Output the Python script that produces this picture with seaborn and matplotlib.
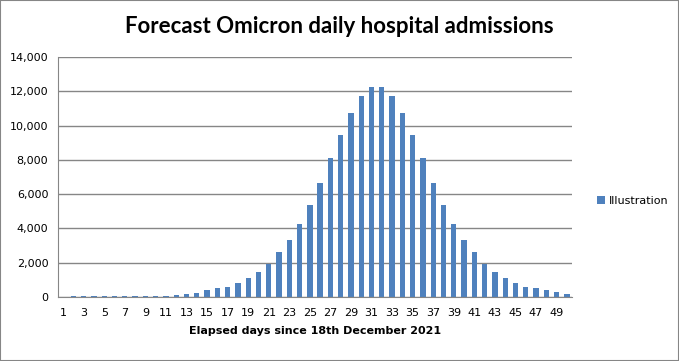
import numpy as np
import pandas as pd
import matplotlib
matplotlib.use('Agg')
import matplotlib.pyplot as plt
import seaborn as sns
from matplotlib.patches import Rectangle

# 데이터
days = list(range(1, 51))
admissions = [0, 80, 80, 80, 80, 80, 80, 80, 80, 80,
              80, 140, 190, 250, 390, 500, 600, 840, 1130, 1480,
              1940, 2600, 3340, 4280, 5390, 6670, 8090, 9470, 10750, 11740,
              12250, 12250, 11740, 10750, 9470, 8090, 6670, 5390, 4280, 3340,
              2610, 1940, 1480, 1130, 840, 600, 500, 390, 270, 190]
series_name = 'Illustration'
title = 'Forecast Omicron daily hospital admissions'
xlabel = 'Elapsed days since 18th December 2021'

df = pd.DataFrame({'day': days, 'value': admissions, 'series': series_name})

sns.set_style('white')
plt.rcParams['font.family'] = ['DejaVu Sans']
plt.rcParams['text.color'] = 'black'
plt.rcParams['xtick.labelcolor'] = 'black'
plt.rcParams['ytick.labelcolor'] = 'black'
plt.rcParams['axes.labelcolor'] = 'black'

fig = plt.figure(figsize=(6.79, 3.61), dpi=100)
ax = fig.add_axes([58/679, 1-297/361, 514/679, 240/361])

sns.barplot(data=df, x='day', y='value', hue='series', palette=['#4F81BD'],
            width=0.52, saturation=1, linewidth=0, ax=ax, legend=True)

# y축
ax.set_ylim(0, 14000)
ax.set_yticks(range(0, 14001, 2000))
ax.set_yticklabels([f'{v:,}' for v in range(0, 14001, 2000)], fontsize=8)
ax.yaxis.grid(True, color='#868686', linewidth=1)
ax.set_axisbelow(True)
ax.tick_params(axis='y', length=4, color='#868686', pad=3)

# x축: 홀수 라벨, 눈금은 경계에
ax.set_xlim(-0.5, len(days) - 0.5)
ax.set_xticks(range(0, len(days), 2))
ax.set_xticklabels([str(d) for d in days[::2]], fontsize=8)
ax.set_xticks(np.arange(-0.5, len(days), 1), minor=True)
ax.tick_params(axis='x', which='major', length=0, pad=8)
ax.tick_params(axis='x', which='minor', length=4, color='#868686', direction='out')
ax.set_xlabel(xlabel, fontsize=8, fontweight='bold', labelpad=6)
ax.set_ylabel('')

for s in ['top', 'right']:
    ax.spines[s].set_visible(False)
for s in ['left', 'bottom']:
    ax.spines[s].set_color('#868686')

leg = ax.legend(loc='center left', bbox_to_anchor=(1.03, 0.4), frameon=False,
                fontsize=8, handlelength=0.7, handleheight=0.7, handletextpad=0.3)

fig.suptitle(title, x=0.5, y=0.955, fontsize=16, fontweight='bold', family='Lato')

fig.patches.append(Rectangle((0, 0), 1, 1, transform=fig.transFigure, fill=False,
                             edgecolor='#868686', linewidth=1.5))

fig.savefig('out.png', dpi=100)
